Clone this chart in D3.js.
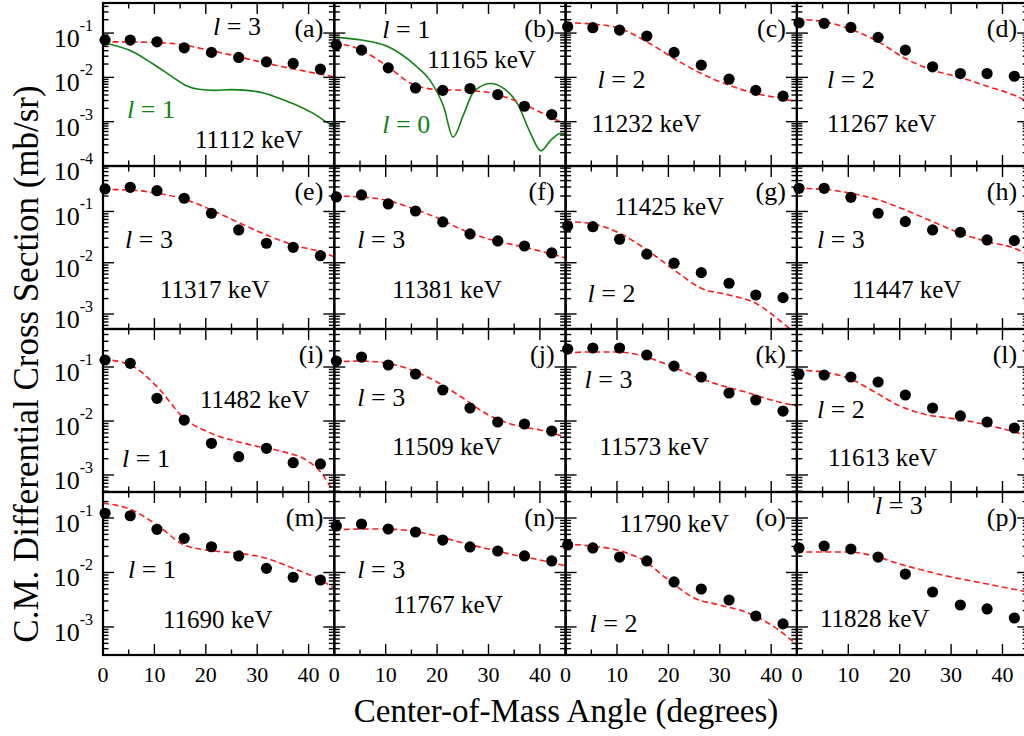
<!DOCTYPE html>
<html><head><meta charset="utf-8">
<script src="https://cdn.jsdelivr.net/npm/d3@7"></script>
<style>
body{margin:0;background:#fff}
svg{display:block}
</style>
</head><body>
<svg id="chart" width="1024" height="736"></svg>
<script>
// ---------------- DATA ----------------
const panelTags = ["(a)","(b)","(c)","(d)","(e)","(f)","(g)","(h)","(i)","(j)","(k)","(l)","(m)","(n)","(o)","(p)"];
const energies = ["11112 keV","11165 keV","11232 keV","11267 keV","11317 keV","11381 keV","11425 keV","11447 keV",
                  "11482 keV","11509 keV","11573 keV","11613 keV","11690 keV","11767 keV","11790 keV","11828 keV"];
const lValues = [3,1,2,2,3,3,2,3,1,3,3,2,1,3,2,3];

const xTicksMajor = [0,10,20,30,40];
const xTicksMinor = [5,15,25,35,45];
const xTickLabels = ["0","10","20","30","40"];

// measured angles of the data points (degrees)
const pointAngles = [0.4, 5.3, 10.5, 15.8, 21.1, 26.4, 31.8, 37.0, 42.3];
// angles at which the calculated curves were read
const fitAnglesP = [0, 5.3, 10.5, 15.8, 21.1, 26.4, 31.8, 37.0, 42.3, 45];
const fitAngles5 = [0, 5, 10, 15, 20, 25, 30, 35, 40, 45];
const fitAnglesI = [0, 5.3, 10.5, 15.8, 21.1, 26.4, 31.8, 35, 40, 42.3, 45];

// experimental cross sections (mb/sr)
const expA = [0.0695, 0.0695, 0.0635, 0.0465, 0.0366, 0.0282, 0.0224, 0.0206, 0.0153];
const expB = [0.0536, 0.0412, 0.0164, 0.00578, 0.0051, 0.0056, 0.0041, 0.00223, 0.00145];
const expC = [0.139, 0.132, 0.117, 0.0855, 0.0366, 0.0189, 0.0091, 0.0051, 0.00376];
const expD = [0.171, 0.166, 0.134, 0.080, 0.0412, 0.0173, 0.0122, 0.0122, 0.0106];
const expE = [0.275, 0.296, 0.254, 0.181, 0.0923, 0.0436, 0.024, 0.020, 0.0137];
const expF = [0.192, 0.21, 0.14, 0.102, 0.0624, 0.0364, 0.0266, 0.0212, 0.0155];
const expG = [0.0521, 0.0505, 0.0287, 0.0147, 0.0098, 0.00641, 0.00398, 0.00235, 0.00209];
const expH = [0.283, 0.283, 0.189, 0.0923, 0.0633, 0.0436, 0.0393, 0.0278, 0.027];
const expI = [0.135, 0.117, 0.0263, 0.0104, 0.00386, 0.00218, 0.00312, 0.00169, 0.0016];
const expJ = [0.129, 0.153, 0.109, 0.0742, 0.0375, 0.0174, 0.00958, 0.0088, 0.00653];
const expK = [0.215, 0.225, 0.225, 0.167, 0.104, 0.0653, 0.033, 0.0245, 0.0153];
const expL = [0.0742, 0.0711, 0.0653, 0.0528, 0.0303, 0.0174, 0.0124, 0.00958, 0.00742];
const expM = [0.122, 0.110, 0.062, 0.0424, 0.0297, 0.0201, 0.0119, 0.00817, 0.00728];
const expN = [0.0713, 0.0776, 0.0628, 0.0553, 0.0394, 0.0294, 0.0248, 0.0201, 0.0163];
const expO = [0.032, 0.0282, 0.0192, 0.0163, 0.0067, 0.00498, 0.00313, 0.00159, 0.00114];
const expP = [0.0282, 0.0306, 0.027, 0.0192, 0.00937, 0.00438, 0.00253, 0.00214, 0.00146];

// calculated (red dashed) curves
const fitA = [0.0636, 0.063, 0.0617, 0.0555, 0.0428, 0.0318, 0.0233, 0.0173, 0.0133, 0.0103];
const fitB = [0.0604, 0.0427, 0.0189, 0.00728, 0.0053, 0.0051, 0.00455, 0.00305, 0.00166, 0.00087];
const fitC = [0.171, 0.16, 0.128, 0.0637, 0.0267, 0.0122, 0.00667, 0.0043, 0.0033, 0.0028];
const fitD = [0.204, 0.18, 0.121, 0.0637, 0.0267, 0.0146, 0.00995, 0.0063, 0.00395, 0.0028];
const fitE = [0.27, 0.262, 0.226, 0.173, 0.107, 0.0605, 0.0349, 0.0222, 0.0164, 0.0131];
const fitF = [0.2, 0.192, 0.167, 0.117, 0.075, 0.0436, 0.029, 0.0222, 0.017, 0.0124];
const fitG = [0.0634, 0.057, 0.0376, 0.0178, 0.00725, 0.00318, 0.00235, 0.00162, 0.00066, 0.0004];
const fitH = [0.283, 0.27, 0.226, 0.168, 0.107, 0.0633, 0.0376, 0.0258, 0.0192, 0.0142];
const fitI = [0.139, 0.109, 0.0432, 0.0112, 0.0059, 0.0041, 0.00312, 0.00271, 0.00177, 0.00115, 0.00045];
const fitJ = [0.124, 0.129, 0.119, 0.088, 0.0528, 0.0267, 0.0129, 0.00843, 0.00681, 0.00506];
const fitK = [0.182, 0.19, 0.19, 0.16, 0.109, 0.068, 0.0464, 0.0344, 0.0245, 0.019];
const fitL = [0.088, 0.0808, 0.0625, 0.035, 0.019, 0.0132, 0.0112, 0.0093, 0.0072, 0.0053];
const fitM = [0.186, 0.145, 0.0745, 0.032, 0.0251, 0.0225, 0.0182, 0.0119, 0.0073, 0.0051];
const fitN = [0.0602, 0.0628, 0.0628, 0.0577, 0.0467, 0.0348, 0.027, 0.021, 0.017, 0.0132];
const fitO = [0.0333, 0.0306, 0.0259, 0.017, 0.0073, 0.0034, 0.00253, 0.00188, 0.00109, 0.00047];
const fitP = [0.0238, 0.0238, 0.0238, 0.0201, 0.0143, 0.0107, 0.00826, 0.0067, 0.00542, 0.00438];

// alternative-l (green) curves in panels (a) and (b)
const altAnglesA = [0, 5.8, 9.6, 13.5, 16, 18.6, 21.8, 25, 28, 31, 34.5, 37.7, 41, 44.3, 45];
const altA = [0.0604, 0.0379, 0.0206, 0.0103, 0.00667, 0.0054, 0.0051, 0.0053, 0.0051, 0.0045, 0.0033, 0.00235, 0.00152, 0.00087, 0.00082];
const altAnglesB = [0, 5.3, 10.5, 15.7, 18.6, 21.3, 23.1, 25.2, 27.1, 30.4, 33, 35.6, 38.2, 40.2, 42.1, 44, 45];
const altB = [0.080, 0.0695, 0.049, 0.0189, 0.00865, 0.00215, 0.00045, 0.0015, 0.0047, 0.0073, 0.0056, 0.0026, 0.00054, 0.00022, 0.00038, 0.00054, 0.00054];
const altLabels = ["l = 1", "l = 0"];

// y-axis range of each row (mb/sr)
const rowDomains = [[1e-4, 0.477], [5.1e-4, 0.77], [4.84e-4, 0.506], [3.06e-4, 0.30]];

// ---------------- LAYOUT ----------------
const FONT = "'Liberation Serif', 'Times New Roman', Times, 'DejaVu Serif', serif";
const colLeft = [103, 334.3, 565.6, 796.9];
const panelW = 231.3;
const rowTop = [3, 166, 329, 492];
const rowH = 163;
// label offsets inside each panel: [lx, ly, ex, ey]
const labelPos = [
  [110,32, 92,145],[48,35, 93,65],[32,85, 26,129],[30,85, 30,129],
  [22,82, 57,132],[23,82, 58,132],[22,136, 49,49],[20,82, 55,132],
  [19,138, 97,79],[23,77, 58,126],[19,59, 34,126],[20,89, 31,137],
  [25,86, 60,136],[23,86, 59,121],[24,140, 54,40],[78,22, 23,135]
];
const altPos = [[24,115],[48,130]];

const exps = [expA,expB,expC,expD,expE,expF,expG,expH,expI,expJ,expK,expL,expM,expN,expO,expP];
const fits = [fitA,fitB,fitC,fitD,fitE,fitF,fitG,fitH,fitI,fitJ,fitK,fitL,fitM,fitN,fitO,fitP];
const fitAngleSets = [fitAngles5,fitAngles5,fitAnglesP,fitAnglesP,fitAnglesP,fitAngles5,fitAnglesP,fitAnglesP,
                      fitAnglesI,fitAngles5,fitAngles5,fitAngles5,fitAnglesP,fitAngles5,fitAngles5,fitAngles5];

const svg = d3.select("#chart").attr("font-family", FONT);
const defs = svg.append("defs");
const RED = "#ff1a1a", GREEN = "#128212";

function txt(sel) {
  return sel.append("text").attr("font-family", FONT).style("font-family", FONT).attr("fill", "#000");
}

const panels = d3.range(16).map(i => {
  const r = Math.floor(i/4), c = i%4;
  const x = d3.scaleLinear().domain([0,45]).range([colLeft[c], colLeft[c]+panelW]);
  const y = d3.scaleLog().domain(rowDomains[r]).range([rowTop[r]+rowH, rowTop[r]]);
  return {i, r, c, x, y};
});

const curveLayer = svg.append("g");
const frameLayer = svg.append("g");
const dotLayer = svg.append("g");
const textLayer = svg.append("g");

panels.forEach(p => {
  const {i, r, c, x, y} = p;
  const x0 = x.range()[0], x1 = x.range()[1], y0 = y.range()[1], y1 = y.range()[0];
  defs.append("clipPath").attr("id","clip"+i).append("rect")
    .attr("x",x0).attr("y",y0).attr("width",x1-x0).attr("height",y1-y0);
  const gc = curveLayer.append("g").attr("clip-path","url(#clip"+i+")");
  const line = d3.line().x(d=>x(d[0])).y(d=>y(d[1])).curve(d3.curveMonotoneX);

  if (i === 0 || i === 1) {
    const aa = i===0 ? altAnglesA : altAnglesB;
    const av = i===0 ? altA : altB;
    gc.append("path").attr("d", line(aa.map((a,k)=>[a,av[k]])))
      .attr("fill","none").attr("stroke",GREEN).attr("stroke-width",1.6);
  }
  const fa = fitAngleSets[i];
  gc.append("path").attr("d", line(fa.map((a,k)=>[a,fits[i][k]])))
    .attr("fill","none").attr("stroke",RED).attr("stroke-width",1.6)
    .attr("stroke-dasharray","6,3.5");

  // frame + ticks
  const gf = frameLayer.append("g");
  const majLen = 11, minLen = 5.5;
  xTicksMajor.forEach(t => {
    gf.append("line").attr("x1",x(t)).attr("x2",x(t)).attr("y1",y1).attr("y2",y1-majLen);
    gf.append("line").attr("x1",x(t)).attr("x2",x(t)).attr("y1",y0).attr("y2",y0+majLen);
  });
  xTicksMinor.forEach(t => {
    gf.append("line").attr("x1",x(t)).attr("x2",x(t)).attr("y1",y1).attr("y2",y1-minLen);
    gf.append("line").attr("x1",x(t)).attr("x2",x(t)).attr("y1",y0).attr("y2",y0+minLen);
  });
  const [dmin, dmax] = rowDomains[r];
  for (let e = -5; e <= 0; e++) {
    for (let m = 1; m <= 9; m++) {
      const v = m * Math.pow(10, e);
      if (v < dmin*0.999 || v > dmax) continue;
      const L = m === 1 ? majLen : minLen;
      gf.append("line").attr("x1",x0).attr("x2",x0+L).attr("y1",y(v)).attr("y2",y(v));
      gf.append("line").attr("x1",x1).attr("x2",x1-L).attr("y1",y(v)).attr("y2",y(v));
    }
  }
  gf.selectAll("line").attr("stroke","#000").attr("stroke-width",1.4);
  gf.append("rect").attr("x",x0).attr("y",y0).attr("width",x1-x0).attr("height",y1-y0)
    .attr("fill","none").attr("stroke","#000").attr("stroke-width",2.2);

  // dots
  dotLayer.selectAll(null).data(pointAngles.map((a,k)=>[a,exps[i][k]])).enter()
    .append("circle").attr("cx",d=>x(d[0])).attr("cy",d=>y(d[1])).attr("r",5.6).attr("fill","#000");

  // labels
  const lp = labelPos[i];
  txt(textLayer).attr("x",x1-11).attr("y",y0+34).attr("text-anchor","end")
    .style("font-size","26px").text(panelTags[i]);
  const lt = txt(textLayer).attr("x",x0+lp[0]).attr("y",y0+lp[1]).style("font-size","26px");
  lt.append("tspan").style("font-style","italic").text("l");
  lt.append("tspan").text(" = " + lValues[i]);
  txt(textLayer).attr("x",x0+lp[2]).attr("y",y0+lp[3]).style("font-size","25px").text(energies[i]);
  if (i < 2) {
    const gt = txt(textLayer).attr("x",x0+altPos[i][0]).attr("y",y0+altPos[i][1])
      .style("font-size","26px").attr("fill",GREEN);
    gt.append("tspan").style("font-style","italic").text("l");
    gt.append("tspan").text(altLabels[i].slice(1));
  }

  // x tick labels on bottom row
  if (r === 3) {
    xTicksMajor.forEach((t,k) => {
      txt(textLayer).attr("x",x(t)).attr("y",682).attr("text-anchor","middle")
        .style("font-size","22px").text(xTickLabels[k]);
    });
  }
  // y tick labels on left column
  if (c === 0) {
    for (let e = -4; e <= 0; e++) {
      const v = Math.pow(10, e);
      if (v < dmin*0.999 || v > dmax) continue;
      const t = txt(textLayer).attr("x",x0-10).attr("y",y(v)+14)
        .attr("text-anchor","end").style("font-size","26px");
      t.append("tspan").text("10");
      t.append("tspan").attr("dy",-16).style("font-size","16px").text("-" + (-e));
    }
  }
});

// axis titles
txt(textLayer).attr("x",566).attr("y",722).attr("text-anchor","middle")
  .style("font-size","33px").text("Center-of-Mass Angle (degrees)");
txt(textLayer).attr("transform","translate(38,364) rotate(-90)").attr("text-anchor","middle")
  .style("font-size","35px").text("C.M. Differential Cross Section (mb/sr)");
</script>
</body></html>
